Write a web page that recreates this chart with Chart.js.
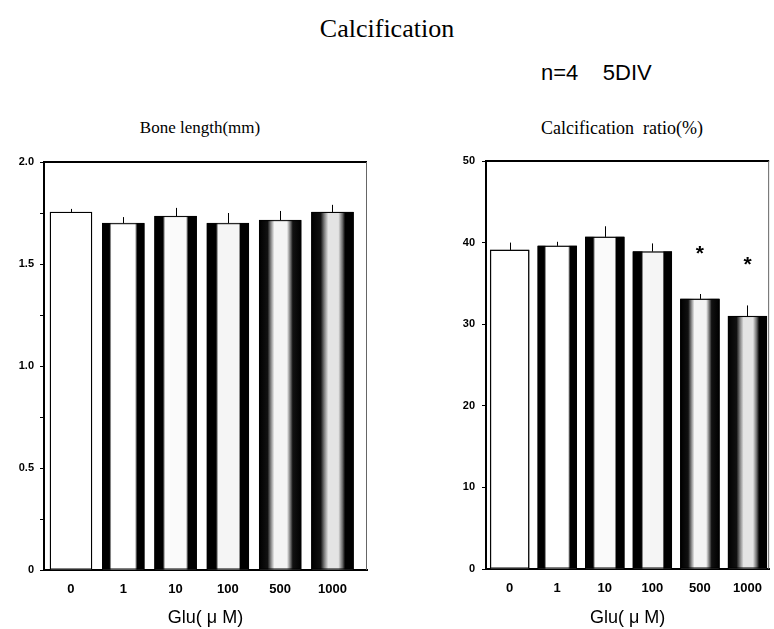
<!DOCTYPE html>
<html>
<head>
<meta charset="utf-8">
<script src="https://cdn.jsdelivr.net/npm/chart.js@4/dist/chart.umd.min.js"></script>
<style>
    body { margin: 0; background: #fff; }
    #page { position: relative; width: 774px; height: 629px; overflow: hidden; background: #fff; }
    canvas { position: absolute; top: 0; }
    .txt { position: absolute; white-space: pre; color: #000; line-height: 1; }
    .serif { font-family: 'Liberation Serif', 'Times New Roman', serif; }
    .sans { font-family: 'Liberation Sans', Arial, sans-serif; }
</style>
</head>
<body>
<div id="page">
    <div class="txt serif" style="left:0; width:774px; text-align:center; top:16px; font-size:26px;">Calcification</div>
    <div class="txt sans" style="left:541px; top:62px; font-size:22px;">n=4    5DIV</div>
    <div class="txt serif" style="left:100px; width:200px; text-align:center; top:119px; font-size:17px;">Bone length(mm)</div>
    <div class="txt serif" style="left:522px; width:200px; text-align:center; top:119px; font-size:18px;">Calcification  ratio(%)</div>
    <canvas id="chart-bone" width="380" height="629" style="left:0; width:380px; height:629px;"></canvas>
    <canvas id="chart-ratio" width="384" height="629" style="left:390px; width:384px; height:629px;"></canvas>
</div>
<script>
// @ts-nocheck

const categories = ['0', '1', '10', '100', '500', '1000'];

// bone length (mm), mean and SEM
const bone_length = [1.755, 1.70, 1.735, 1.70, 1.715, 1.755];
const bone_length_sem = [0.015, 0.03, 0.04, 0.05, 0.045, 0.035];
const bone_ticks = [0, 0.25, 0.5, 0.75, 1.0, 1.25, 1.5, 1.75, 2.0];
const bone_labels = ['0', '', '0.5', '', '1.0', '', '1.5', '', '2.0'];

// calcification ratio (%), mean and SEM
const calc_ratio = [39.1, 39.6, 40.7, 38.9, 33.1, 31.0];
const calc_ratio_sem = [0.9, 0.5, 1.3, 1.0, 0.6, 1.3];
const calc_significant = [false, false, false, false, true, true];
const ratio_ticks = [0, 10, 20, 30, 40, 50];
const ratio_labels = ['0', '10', '20', '30', '40', '50'];

const x_title = 'Glu( \u03BC M)';
const sans = "'Liberation Sans', Arial, sans-serif";

// black edges / white centre look of the scanned bars, one set of stops per bar
const bar_stops = [
    null,
    [[0, '#000'], [0.17, '#000'], [0.22, '#fff'], [0.78, '#fff'], [0.83, '#000'], [1, '#000']],
    [[0, '#000'], [0.2, '#000'], [0.25, '#fafafa'], [0.75, '#fafafa'], [0.8, '#000'], [1, '#000']],
    [[0, '#000'], [0.22, '#000'], [0.27, '#f5f5f5'], [0.76, '#f5f5f5'], [0.8, '#000'], [1, '#000']],
    [[0, '#000'], [0.2, '#111'], [0.28, '#888'], [0.36, '#f4f4f4'], [0.66, '#f4f4f4'], [0.74, '#777'], [0.8, '#111'], [1, '#000']],
    [[0, '#000'], [0.22, '#111'], [0.3, '#777'], [0.4, '#e4e4e4'], [0.64, '#e4e4e4'], [0.74, '#666'], [0.8, '#000'], [1, '#000']],
];

const bar_plugin = {
    id: 'bar_style',
    afterDatasetsDraw(chart, args, opts) {
        const ctx = chart.ctx;
        const y_scale = chart.scales.y;
        const meta = chart.getDatasetMeta(0);
        ctx.save();
        meta.data.forEach((bar, i) => {
            const { x, y, base, width } = bar.getProps(['x', 'y', 'base', 'width'], true);
            const left = x - width / 2;
            const stops = bar_stops[i];
            if (stops) {
                const grad = ctx.createLinearGradient(left, 0, left + width, 0);
                stops.forEach(s => grad.addColorStop(s[0], s[1]));
                ctx.fillStyle = grad;
                ctx.fillRect(left, y, width, base - y);
            }
            ctx.strokeStyle = '#000';
            ctx.lineWidth = 1;
            ctx.strokeRect(left + 0.5, y + 0.5, width - 1, base - y - 1);

            // error bar (upper half only)
            const top = y_scale.getPixelForValue(opts.values[i] + opts.sem[i]);
            ctx.beginPath();
            ctx.moveTo(Math.round(x) + 0.5, y);
            ctx.lineTo(Math.round(x) + 0.5, top);
            ctx.stroke();

            if (opts.significant && opts.significant[i]) {
                ctx.fillStyle = '#000';
                ctx.font = 'bold 21px ' + sans;
                ctx.textAlign = 'center';
                ctx.textBaseline = 'middle';
                ctx.fillText('*', x, top - 40);
            }
        });

        // frame: top and right side of the plot box
        const a = chart.chartArea;
        ctx.strokeStyle = '#000';
        ctx.lineWidth = 2;
        ctx.beginPath();
        ctx.moveTo(a.left, a.top);
        ctx.lineTo(a.right, a.top);
        ctx.stroke();
        ctx.strokeStyle = '#666';
        ctx.lineWidth = 1;
        ctx.beginPath();
        ctx.moveTo(a.right - 0.5, a.top);
        ctx.lineTo(a.right - 0.5, a.bottom);
        ctx.stroke();
        ctx.restore();
    },
};

const make_chart = (id, cfg) => {
    const ctx = document.getElementById(id).getContext('2d');
    return new Chart(ctx, {
        type: 'bar',
        data: {
            datasets: [
                {
                    data: cfg.values.map((v, i) => ({ x: i, y: v })),
                    backgroundColor: '#fff',
                    borderColor: '#000',
                    borderWidth: 1,
                    barThickness: cfg.bar_width,
                },
            ],
        },
        options: {
            responsive: false,
            animation: false,
            layout: { padding: cfg.padding },
            scales: {
                x: {
                    type: 'linear',
                    offset: false,
                    min: cfg.x_min,
                    max: cfg.x_max,
                    afterBuildTicks: s => { s.ticks = categories.map((c, i) => ({ value: i })); },
                    afterFit: s => { s.height = cfg.x_height; },
                    ticks: {
                        callback: v => categories[v],
                        color: '#000',
                        padding: 12,
                        maxRotation: 0,
                        font: { family: sans, size: 13, weight: 'bold' },
                    },
                    grid: { display: false, drawTicks: false, offset: false },
                    border: { display: true, color: '#000', width: 2 },
                    title: {
                        display: true,
                        text: x_title,
                        color: '#000',
                        padding: { top: 0, bottom: 0 },
                        font: { family: sans, size: 18 },
                    },
                },
                y: {
                    min: cfg.y_ticks[0],
                    max: cfg.y_ticks[cfg.y_ticks.length - 1],
                    afterBuildTicks: s => { s.ticks = cfg.y_ticks.map(v => ({ value: v })); },
                    afterFit: s => { s.width = cfg.y_width; },
                    ticks: {
                        callback: (v, i) => cfg.y_labels[i],
                        color: '#000',
                        padding: cfg.y_pad,
                        font: { family: sans, size: 11, weight: 'bold' },
                    },
                    grid: {
                        display: true,
                        drawOnChartArea: false,
                        drawTicks: true,
                        tickLength: 4,
                        color: '#000',
                    },
                    border: { display: true, color: '#000', width: 2 },
                },
            },
            plugins: {
                legend: { display: false },
                tooltip: { enabled: false },
                bar_style: {
                    values: cfg.values,
                    sem: cfg.sem,
                    significant: cfg.significant,
                },
            },
        },
        plugins: [bar_plugin],
    });
};

make_chart('chart-bone', {
    values: bone_length,
    sem: bone_length_sem,
    significant: null,
    y_ticks: bone_ticks,
    y_labels: bone_labels,
    bar_width: 42,
    x_min: -0.516,
    x_max: 5.66,
    x_height: 59,
    y_width: 44,
    y_pad: 6,
    padding: { left: 0, right: 13, top: 162, bottom: 0 },
});

make_chart('chart-ratio', {
    values: calc_ratio,
    sem: calc_ratio_sem,
    significant: calc_significant,
    y_ticks: ratio_ticks,
    y_labels: ratio_labels,
    bar_width: 39,
    x_min: -0.498,
    x_max: 5.456,
    x_height: 60,
    y_width: 96,
    y_pad: 7,
    padding: { left: 0, right: 1, top: 161, bottom: 0 },
});
</script>
</body>
</html>
